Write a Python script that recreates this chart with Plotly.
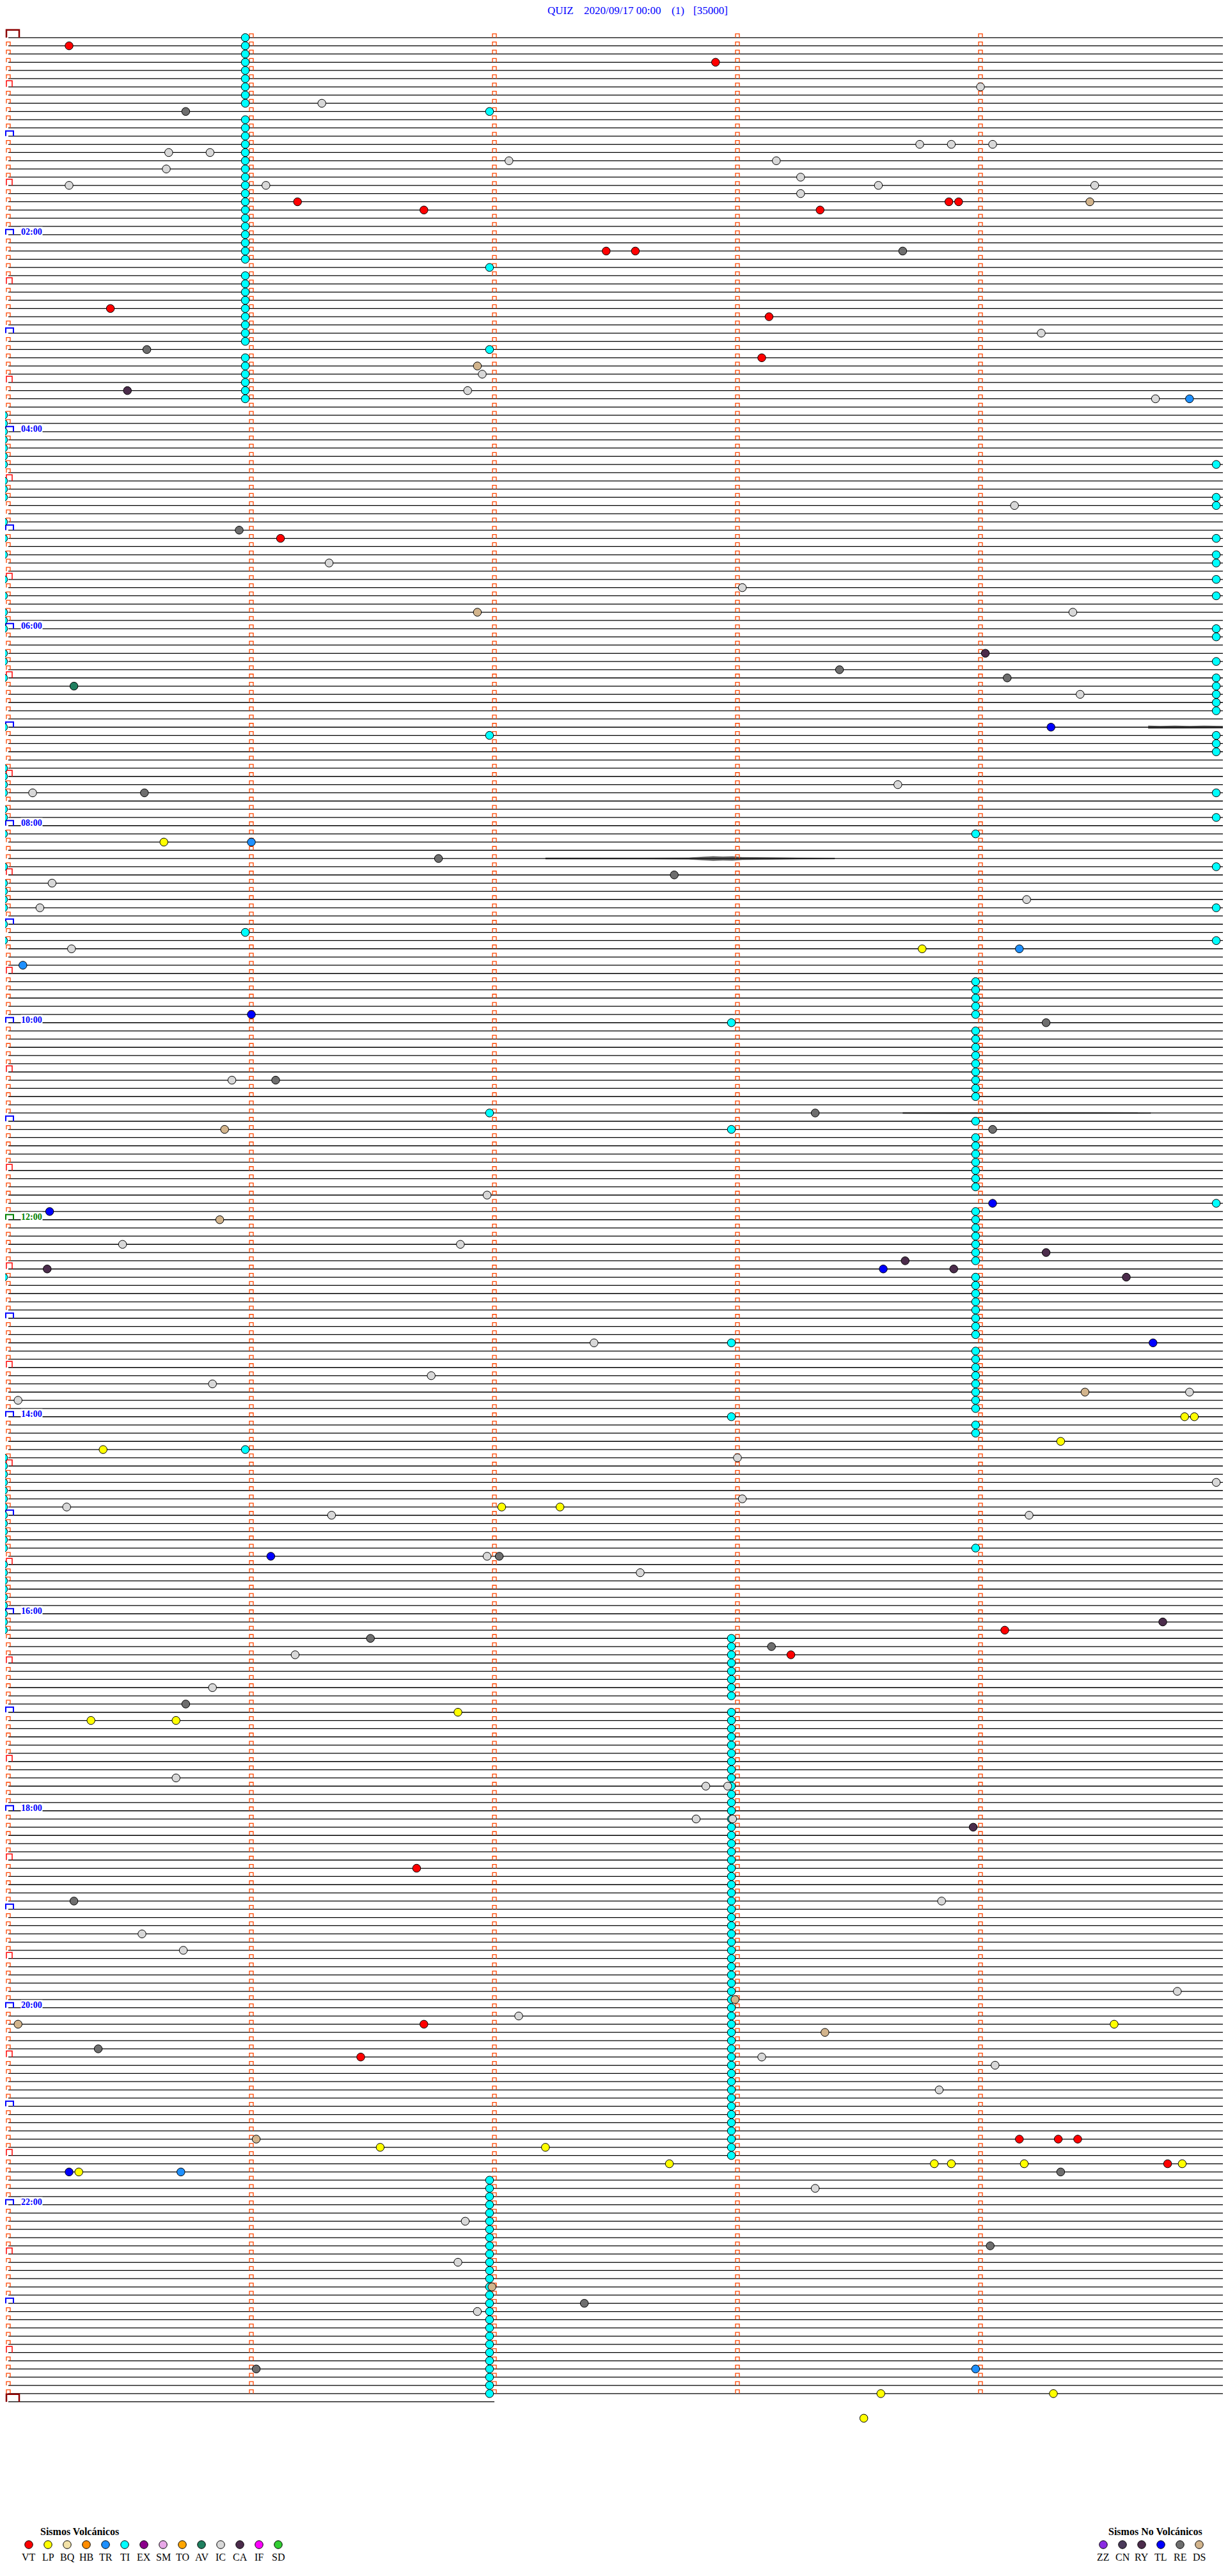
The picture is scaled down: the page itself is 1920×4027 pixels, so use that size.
import plotly.graph_objects as go

# ---------------- page geometry ----------------
PAGE_W, PAGE_H, BODY_MARGIN = 1920, 4027, 8
FIG_W, FIG_H = PAGE_W - 2 * BODY_MARGIN, PAGE_H - 2 * BODY_MARGIN
X_ORIGIN, PX_MIN = 13.0, 380.0      # page x of minute 0, px per minute
Y_ORIGIN, PX_LINE = 58.8, 12.833    # page y of row 0, px per row

# ---------------- data ----------------
station = "QUIZ"
date_txt = "2020/09/17 00:00"
channel_txt = "(1)"
scale_txt = "[35000]"

n_lines = 289            # 5-minute rows 00:00 .. 24:00
minutes_per_line = 5
last_line_end = 2.0      # last row only has 2 minutes of signal

hour_label_lines = [24, 48, 72, 96, 120, 144, 168, 192, 216, 240, 264]
hour_label_text = ["02:00", "04:00", "06:00", "08:00", "10:00", "12:00",
                   "14:00", "16:00", "18:00", "20:00", "22:00"]

# events: row index and minute inside the row
vt_line = [1, 3, 20, 20, 20, 21, 21, 26, 26, 33, 34, 39, 61, 194, 197, 223, 242, 246, 256, 256, 256, 259]
vt_min = [0.25, 2.91, 1.19, 3.87, 3.91, 1.71, 3.34, 2.46, 2.58, 0.42, 3.13, 3.10, 1.12, 4.10, 3.22, 1.68, 1.71, 1.45, 4.16, 4.32, 4.40, 4.77]

lp_line = [98, 111, 168, 168, 171, 172, 179, 179, 204, 205, 205, 242, 257, 257, 259, 259, 259, 259, 259, 260, 287, 287, 290]
lp_min = [0.64, 3.76, 4.84, 4.88, 4.33, 0.39, 2.03, 2.27, 1.85, 0.34, 0.69, 4.55, 1.53, 2.21, 2.72, 3.81, 3.88, 4.18, 4.83, 0.29, 3.59, 4.30, 3.52]

tr_line = [44, 98, 111, 113, 260, 284]
tr_min = [4.86, 1.00, 4.16, 0.06, 0.71, 3.98]

tl_line = [84, 119, 142, 143, 150, 159, 185, 260]
tl_min = [4.29, 1.00, 4.05, 0.17, 3.60, 4.71, 1.08, 0.25]

av_line = [79]
av_min = [0.27]

ic_line = [6, 8, 13, 13, 13, 14, 14, 15, 15, 16, 17, 18, 18, 18, 18, 19, 36, 41, 43, 44, 57, 64, 67, 70, 80,
           91, 92, 103, 105, 106, 111, 127, 141, 147, 147, 159, 163, 164, 165, 166, 173, 176, 178, 179,
           180, 180, 185, 187, 197, 201, 212, 213, 213, 217, 217, 227, 231, 233, 238, 241, 246, 247, 250,
           262, 266, 271, 277]
ic_min = [4.00, 1.29, 3.75, 3.88, 4.05, 0.66, 0.83, 2.06, 3.16, 0.65, 3.26, 0.25, 1.06, 3.58, 4.47, 3.26, 4.25,
          1.95, 1.89, 4.72, 4.14, 1.32, 3.02, 4.38, 4.41, 3.66, 0.10, 0.18, 4.19, 0.13, 0.26, 0.92, 1.97,
          0.47, 1.86, 2.41, 1.74, 0.84, 4.86, 0.04, 3.00, 4.97, 3.02, 0.24, 1.33, 4.20, 1.97, 2.60, 1.18,
          0.84, 0.69, 2.87, 2.96, 2.83, 2.98, 3.84, 0.55, 0.72, 4.81, 2.10, 3.10, 4.06, 3.83, 3.32, 1.88,
          1.85, 1.93]

re_line = [9, 26, 38, 60, 77, 78, 92, 100, 102, 120, 127, 131, 133, 185, 195, 196, 203, 227, 245, 260, 269, 276, 284]
re_min = [0.73, 3.68, 0.57, 0.95, 3.42, 4.11, 0.56, 1.77, 2.74, 4.27, 1.10, 3.32, 4.05, 2.02, 1.49, 3.14, 0.73,
          0.27, 0.37, 4.33, 4.04, 2.37, 1.02]

ca_line = [43, 75, 148, 149, 150, 150, 151, 193, 218]
ca_min = [0.49, 4.02, 4.27, 3.69, 0.16, 3.89, 4.60, 4.75, 3.97]

ds_line = [20, 40, 70, 133, 144, 165, 239, 242, 243, 256, 274]
ds_min = [4.45, 1.93, 1.93, 0.89, 0.87, 4.43, 2.99, 0.04, 3.36, 1.02, 1.99]

# TI markers (gap marks) appear just before whole minutes
ti_m0_lines = (list(range(46, 53)) + [54, 55, 56, 59, 61, 63, 66, 68, 70, 71, 72, 75, 76, 78, 84,
               89, 90, 91, 92, 94, 95, 97, 101, 103, 104, 105, 106, 108, 110, 151]
               + list(range(173, 185)) + list(range(186, 195)))
ti_m1_lines = list(range(0, 9)) + list(range(10, 28)) + list(range(29, 38)) + list(range(39, 45)) + [109, 172]
ti_m2_lines = [9, 28, 38, 85, 131] + list(range(261, 288))
ti_m3_lines = [120, 133, 159, 168] + list(range(195, 203)) + list(range(204, 259))
ti_m4_lines = ([97] + list(range(115, 120)) + list(range(121, 130)) + [132] + list(range(134, 141))
               + list(range(143, 150)) + list(range(151, 159)) + list(range(160, 168)) + [169, 170, 184])
ti_m5_lines = [52, 56, 57, 61, 63, 64, 66, 68, 72, 73, 76, 78, 79, 80, 81, 82, 85, 86, 87, 92, 95,
               101, 106, 110, 142]
ti_col_min = [-0.02, 0.975, 1.98, 2.975, 3.98, 4.97]

# noisy bursts: row, minutes and half amplitude (px) of the envelope
burst_rows = [84, 100, 131]
burst_min = [[4.69, 4.74, 4.80, 4.86, 4.92, 4.97, 5.0],
             [2.21, 2.40, 2.60, 2.80, 2.86, 2.90, 2.94, 2.98, 3.02, 3.10, 3.25, 3.40],
             [3.68, 3.90, 4.10, 4.30, 4.50, 4.70]]
burst_amp = [[2.0, 1.6, 2.0, 1.6, 2.0, 1.6, 1.6],
             [1.0, 0.8, 0.9, 1.2, 2.2, 3.2, 2.6, 3.0, 1.8, 1.3, 1.0, 0.7],
             [0.9, 1.1, 1.0, 1.1, 0.9, 0.7]]

# legend
volc_codes = ["VT", "LP", "BQ", "HB", "TR", "TI", "EX", "SM", "TO", "AV", "IC", "CA", "IF", "SD"]
volc_colors = ["#FF0000", "#FFFF00", "#F2E2A8", "#FF8C00", "#1E90FF", "#00FFFF", "#8B008B", "#E8A8E8",
               "#FFA500", "#1F7F5F", "#D8D8D8", "#4B2C4B", "#FF00FF", "#32CD32"]
novolc_codes = ["ZZ", "CN", "RY", "TL", "RE", "DS"]
novolc_colors = ["#8A2BE2", "#4A3A5A", "#4B2C4B", "#0000FF", "#6E6E6E", "#D2B48C"]
color_of = dict(zip(volc_codes + novolc_codes, volc_colors + novolc_colors))

# ---------------- helpers ----------------
def mx(px):
    return px / PX_MIN


def ly(px):
    return px / PX_LINE


xr = [(BODY_MARGIN - X_ORIGIN) / PX_MIN, (BODY_MARGIN + FIG_W - X_ORIGIN) / PX_MIN]
yr = [(BODY_MARGIN + FIG_H - Y_ORIGIN) / PX_LINE, (BODY_MARGIN - Y_ORIGIN) / PX_LINE]

fig = go.Figure()

# baselines
bx, by = [], []
for L in range(n_lines):
    end = minutes_per_line if L < n_lines - 1 else last_line_end
    bx += [0, end, None]
    by += [L, L, None]
fig.add_trace(go.Scatter(x=bx, y=by, mode="lines", line=dict(color="black", width=1.3),
                         hoverinfo="skip"))

# noise bursts
for row, mins, amps in zip(burst_rows, burst_min, burst_amp):
    xs = mins + mins[::-1]
    ys = [row - ly(a) for a in amps] + [row + ly(a) for a in amps[::-1]]
    fig.add_trace(go.Scatter(x=xs, y=ys, mode="lines", fill="toself", fillcolor="rgba(0,0,0,0.6)",
                             line=dict(color="rgba(0,0,0,0.7)", width=0.6), hoverinfo="skip"))


def cap(xs, ys, left, right, L, h):
    xs += [left, left, right, right, None]
    ys += [L, L - h, L - h, L, None]


# minute ticks
ox, oy, rx, ry, hx, hy, gx, gy, dx, dy = [], [], [], [], [], [], [], [], [], []
for L in range(n_lines):
    if L == 0 or L == n_lines - 1:
        cap(dx, dy, mx(-3), mx(17), L, ly(12))
    elif L == 144:
        cap(gx, gy, mx(-4), mx(8), L, ly(8))
    elif L % 12 == 0:
        cap(hx, hy, mx(-4), mx(8), L, ly(8))
    elif L % 6 == 0:
        cap(rx, ry, mx(-3), mx(6), L, ly(9.5))
    else:
        cap(ox, oy, mx(-3), mx(3), L, ly(6))
    if L < n_lines - 1:
        for k in range(1, 5):
            cap(ox, oy, k - mx(3), k + mx(3), L, ly(6))

for xs, ys, col, w in [(ox, oy, "#FF4500", 1.3), (rx, ry, "#FF0000", 1.5), (hx, hy, "#0000FF", 2.0),
                       (gx, gy, "#008000", 2.0), (dx, dy, "#8B0000", 2.5)]:
    fig.add_trace(go.Scatter(x=xs, y=ys, mode="lines", line=dict(color=col, width=w), hoverinfo="skip"))

# event markers
ti_line, ti_min = [], []
for col_min, rows in zip(ti_col_min, [ti_m0_lines, ti_m1_lines, ti_m2_lines, ti_m3_lines,
                                      ti_m4_lines, ti_m5_lines]):
    ti_line += rows
    ti_min += [col_min] * len(rows)

events = [("TI", ti_line, ti_min), ("IC", ic_line, ic_min), ("RE", re_line, re_min),
          ("CA", ca_line, ca_min), ("DS", ds_line, ds_min), ("AV", av_line, av_min),
          ("TR", tr_line, tr_min), ("TL", tl_line, tl_min), ("LP", lp_line, lp_min),
          ("VT", vt_line, vt_min)]
for code, rows, mins in events:
    fig.add_trace(go.Scatter(x=mins, y=rows, mode="markers", name=code,
                             marker=dict(size=12.5, color=color_of[code],
                                         line=dict(color="black", width=1))))

# legend rows (page pixel axes)
serif = "Liberation Serif, Times New Roman, serif"
lx = [45 + 30 * i for i in range(len(volc_codes))]
fig.add_trace(go.Scatter(x=lx, y=[3978] * len(lx), xaxis="x2", yaxis="y2", mode="markers",
                         marker=dict(size=12.5, color=volc_colors, line=dict(color="black", width=1))))
rxl = [1725 + 30 * i for i in range(len(novolc_codes))]
fig.add_trace(go.Scatter(x=rxl, y=[3978] * len(rxl), xaxis="x2", yaxis="y2", mode="markers",
                         marker=dict(size=12.5, color=novolc_colors, line=dict(color="black", width=1))))

ann = []
for x, t in zip(lx, volc_codes):
    ann.append(dict(x=x, y=3997, xref="x2", yref="y2", text=t, showarrow=False,
                    font=dict(family=serif, size=16, color="black")))
for x, t in zip(rxl, novolc_codes):
    ann.append(dict(x=x, y=3997, xref="x2", yref="y2", text=t, showarrow=False,
                    font=dict(family=serif, size=16, color="black")))
ann.append(dict(x=124, y=3957, xref="x2", yref="y2", text="<b>Sismos Volcánicos</b>", showarrow=False,
                font=dict(family=serif, size=16, color="black")))
ann.append(dict(x=1806, y=3957, xref="x2", yref="y2", text="<b>Sismos No Volcánicos</b>", showarrow=False,
                font=dict(family=serif, size=16, color="black")))

# title
for x, t in [(854, station), (911, date_txt), (1048, channel_txt), (1082, scale_txt)]:
    ann.append(dict(x=x, y=16, xref="x2", yref="y2", text=t, showarrow=False, xanchor="left",
                    font=dict(family=serif, size=17, color="#0000FF")))

# hour labels
for L, t in zip(hour_label_lines, hour_label_text):
    col = "#008000" if L == 144 else "#0000FF"
    ann.append(dict(x=mx(19), y=L - ly(4), xref="x", yref="y", text="<b>" + t + "</b>", showarrow=False,
                    xanchor="left", yanchor="middle", bgcolor="white", borderpad=0,
                    font=dict(family=serif, size=14, color=col)))

fig.update_layout(
    width=FIG_W, height=FIG_H, autosize=False, showlegend=False,
    margin=dict(l=0, r=0, t=0, b=0), paper_bgcolor="white", plot_bgcolor="white",
    xaxis=dict(range=xr, visible=False, fixedrange=True),
    yaxis=dict(range=yr, visible=False, fixedrange=True),
    xaxis2=dict(range=[BODY_MARGIN, BODY_MARGIN + FIG_W], overlaying="x", visible=False),
    yaxis2=dict(range=[BODY_MARGIN + FIG_H, BODY_MARGIN], overlaying="y", visible=False),
    annotations=ann,
)

fig.write_html("out.html", config={"displayModeBar": False})
